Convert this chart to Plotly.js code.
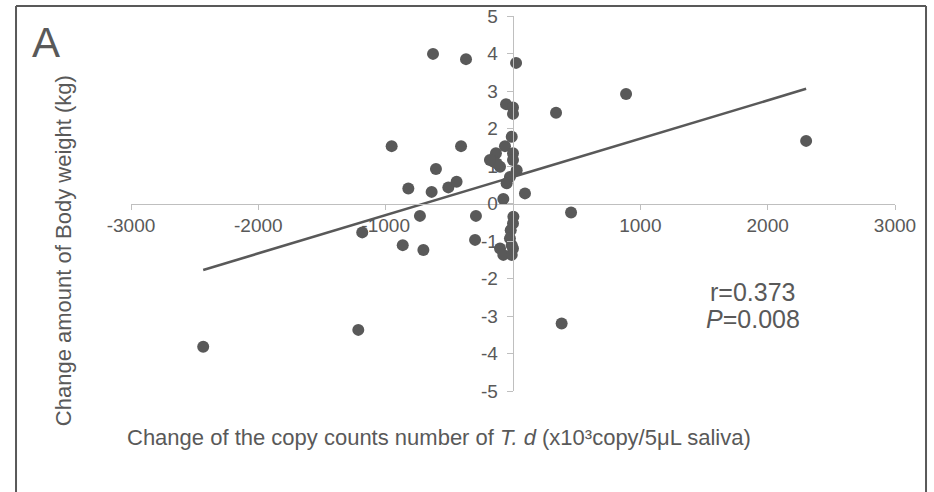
<!DOCTYPE html>
<html>
<head>
<meta charset="utf-8">
<script src="https://cdn.plot.ly/plotly-3.0.1.min.js"></script>
<style>html,body{margin:0;padding:0;background:#fff;}#chart{width:934px;height:492px;}</style>
</head>
<body>
<div id="chart"></div>
<script>
// Change of T. d copy counts (x10^3 copy / 5 uL saliva)
const copyChange = [
  -628, -369, 24, -55, 0, 0, 338, 888, 2302, -953, -408,
  -10, -63, 0, -134, -155, 0, -102, 29, -24, -50, -128, -181,
  -605, -822, -639, -508, -443,
  94, -76,
  -731, -291, 456, -866, -704, -298, 3, 0, -18, -24, -10, 0, -102, -76, -10, 382, -1184, -1215, -2433
];
// Change amount of body weight (kg)
const weightChange = [
  3.99, 3.85, 3.75, 2.65, 2.56, 2.39, 2.42, 2.92, 1.67, 1.53, 1.53,
  1.78, 1.53, 1.34, 1.34, 1.12, 1.16, 0.98, 0.89, 0.71, 0.54, 1.07, 1.16,
  0.92, 0.40, 0.31, 0.43, 0.58,
  0.27, 0.12,
  -0.33, -0.33, -0.24, -1.11, -1.24, -0.97, -0.35, -0.53, -0.71, -0.93, -1.11, -1.20, -1.20, -1.37, -1.37, -3.20, -0.77, -3.37, -3.82
];
const xTickVals = [-3000, -2000, -1000, 1000, 2000, 3000];
const yTickVals = [-5, -4, -3, -2, -1, 0, 1, 2, 3, 4, 5];
const trendSlope = 0.00102;
const trendIntercept = 0.71;
const statR = "r=0.373";
const statP = "<i>P</i>=0.008";

const xMin = Math.min(...copyChange), xMax = Math.max(...copyChange);
const trendX = [xMin, xMax];
const trendY = trendX.map(v => trendIntercept + trendSlope * v);

const grey = '#595959';
const axisGrey = '#bfbfbf';
const fontFam = '"Liberation Sans", Arial, sans-serif';

const traces = [
  {x: copyChange, y: weightChange, type: 'scatter', mode: 'markers',
   marker: {color: grey, size: 12}, hoverinfo: 'skip'},
  {x: trendX, y: trendY, type: 'scatter', mode: 'lines',
   line: {color: grey, width: 2.5}, hoverinfo: 'skip'}
];

const frameL = -0.1505, frameR = 1.0406, frameT = 1.0267, frameB = -0.28;
const frameLine = {color: grey, width: 2};

const layout = {
  width: 934, height: 492,
  margin: {l: 131, r: 39, t: 16, b: 101},
  paper_bgcolor: '#fff', plot_bgcolor: '#fff',
  showlegend: false,
  font: {family: fontFam, color: grey},
  xaxis: {range: [-3000, 3000], anchor: 'free', position: 0.5,
    showgrid: false, zeroline: false, showline: true, linecolor: axisGrey, linewidth: 1,
    ticks: 'outside', ticklen: 5, tickcolor: axisGrey, tickwidth: 1,
    tickvals: xTickVals, ticktext: xTickVals.map(String),
    tickfont: {size: 19, color: grey, family: fontFam}},
  yaxis: {range: [-5, 5], anchor: 'free', position: 0.5,
    showgrid: false, zeroline: false, showline: true, linecolor: axisGrey, linewidth: 1,
    ticks: 'outside', ticklen: 6, tickcolor: axisGrey, tickwidth: 1,
    tickvals: yTickVals, ticktext: yTickVals.map(v => String(v) + '\u00a0'),
    tickfont: {size: 19, color: grey, family: fontFam}},
  annotations: [
    {text: 'A', xref: 'paper', yref: 'paper', x: -0.111, y: 0.93, xanchor: 'center', yanchor: 'middle',
     showarrow: false, font: {size: 42, color: grey, family: fontFam}},
    {text: 'Change amount of Body weight (kg)', xref: 'paper', yref: 'paper',
     x: -0.089, y: 0.373, xanchor: 'center', yanchor: 'middle', textangle: -90, showarrow: false,
     font: {size: 22, color: grey, family: fontFam}},
    {text: 'Change of the copy counts number of <i>T. d</i> (x10³copy/5μL saliva)',
     xref: 'paper', yref: 'paper', x: -0.008, y: -0.1227, xanchor: 'left', yanchor: 'middle', showarrow: false,
     font: {size: 22, color: grey, family: fontFam}},
    {text: statR, xref: 'paper', yref: 'paper', x: 0.814, y: 0.264, xanchor: 'center', yanchor: 'middle',
     showarrow: false, font: {size: 25, color: grey, family: fontFam}},
    {text: statP, xref: 'paper', yref: 'paper', x: 0.814, y: 0.192, xanchor: 'center', yanchor: 'middle',
     showarrow: false, font: {size: 25, color: grey, family: fontFam}}
  ],
  shapes: [
    {type: 'line', xref: 'paper', yref: 'paper', x0: frameL, x1: frameR, y0: frameT, y1: frameT, line: frameLine, layer: 'above'},
    {type: 'line', xref: 'paper', yref: 'paper', x0: frameL, x1: frameL, y0: frameB, y1: frameT, line: frameLine, layer: 'above'},
    {type: 'line', xref: 'paper', yref: 'paper', x0: frameR, x1: frameR, y0: frameB, y1: frameT, line: frameLine, layer: 'above'}
  ]
};

Plotly.newPlot('chart', traces, layout, {staticPlot: true, displayModeBar: false});
</script>
</body>
</html>
